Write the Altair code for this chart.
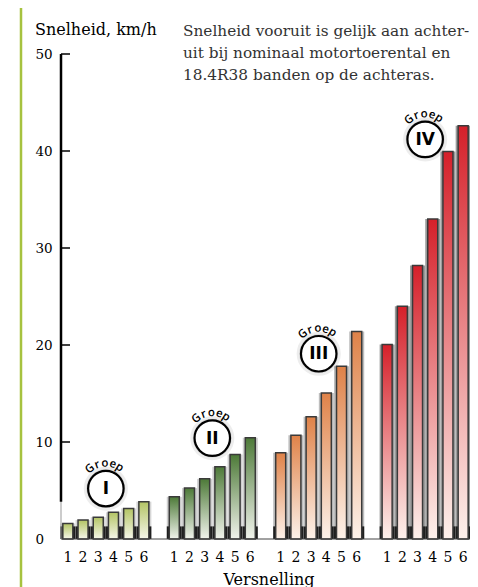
import altair as alt
import pandas as pd

# ---------------- data ----------------
groups = ["I", "II", "III", "IV"]
gears = [1, 2, 3, 4, 5, 6]
speed_I = [1.6, 1.95, 2.25, 2.75, 3.15, 3.85]
speed_II = [4.35, 5.25, 6.2, 7.45, 8.7, 10.45]
speed_III = [8.9, 10.7, 12.6, 15.05, 17.8, 21.4]
speed_IV = [20.05, 24.0, 28.2, 33.0, 39.95, 42.6]
badge_y = [5.2, 10.4, 19.1, 41.2]
y_ticks = [0, 10, 20, 30, 40, 50]
y_title = "Snelheid, km/h"
x_title = "Versnelling"
note_lines = [
    "Snelheid vooruit is gelijk aan achter-",
    "uit bij nominaal motortoerental en",
    "18.4R38 banden op de achteras.",
]
groep_letters = ["G", "r", "o", "e", "p"]

series = {"I": speed_I, "II": speed_II, "III": speed_III, "IV": speed_IV}

# ---------------- styles ----------------
SERIF = "DejaVu Serif"
SANS = "DejaVu Sans"
W, H = 409, 485
PAD = {"left": 53, "top": 46, "right": 0, "bottom": 48}
top_col = {"I": "#b3c464", "II": "#4d7a38", "III": "#df8248", "IV": "#d5202a"}
bot_col = {"I": "#f6f7ea", "II": "#f1f3ec", "III": "#fdf2ea", "IV": "#fdf1ec"}
shadow_col = {"I": "#d6d6d6", "II": "#cfcfcf", "III": "#bdbdbd", "IV": "#9a9a9a"}

rows = []
for gi, g in enumerate(groups):
    for k, v in zip(gears, series[g]):
        rows.append({"group": g, "gi": gi, "gear": k, "speed": v})
bars = pd.DataFrame(rows)
badges = pd.DataFrame({"group": groups, "gi": list(range(4)), "level": badge_y})
ticks_df = pd.DataFrame({"v": y_ticks})
one_row = pd.DataFrame({"k": [0]})

xscale = alt.Scale(domain=[-0.45, 26.45], nice=False, zero=False, padding=0)
yscale = alt.Scale(domain=[0, 50], nice=False, zero=True, padding=0)

posx = alt.X("pos:Q", scale=xscale, axis=None)
bars_base = alt.Chart(bars).transform_calculate(pos="datum.gi * 7 + datum.gear - 1")


def ydat(v):
    return alt.YDatum(v, scale=yscale, axis=None)


# left decorative line
green_line = alt.Chart(one_row).mark_rule(color="#a6c23f", strokeWidth=2.5).encode(
    x=alt.value(-40), y=alt.value(-PAD["top"]), y2=alt.value(H + PAD["bottom"])
)

# gray backdrop behind bars
backdrop = bars_base.mark_bar(size=15, orient="vertical").encode(
    x=posx,
    y=alt.Y("speed:Q", scale=yscale, axis=None),
    y2=alt.Y2Datum(0),
    color=alt.Color("group:N", scale=alt.Scale(domain=groups, range=[shadow_col[g] for g in groups]), legend=None),
)

dark_blocks = bars_base.mark_bar(size=15, color="#1f1f1f", orient="vertical").encode(
    x=posx, y=ydat(0), y2=alt.Y2Datum(1.3)
)

bar_layers = []
for g in groups:
    grad = alt.Gradient(
        gradient="linear",
        stops=[alt.GradientStop(color=top_col[g], offset=0),
               alt.GradientStop(color=bot_col[g], offset=1)],
        x1=0, x2=0, y1=0, y2=1,
    )
    bar_layers.append(
        bars_base.transform_filter(alt.datum.group == g)
        .mark_bar(size=10, color=grad, stroke="#3a3a3a", strokeWidth=1.5, orient="vertical")
        .encode(x=posx, y=alt.Y("speed:Q", scale=yscale, axis=None), y2=alt.Y2Datum(0))
    )

# x baseline
baseline = alt.Chart(one_row).mark_rule(color="#444", strokeWidth=1).encode(
    x=alt.value(0), x2=alt.value(W), y=ydat(0)
)

# y axis line, ticks, labels and titles
axis_line = alt.Chart(one_row).mark_rule(color="black", strokeWidth=2.5).encode(
    x=alt.value(0), y=ydat(speed_I[-1]), y2=alt.Y2Datum(50)
)
axis_low = alt.Chart(one_row).mark_rule(color="#999", strokeWidth=1).encode(
    x=alt.value(0), y=ydat(0), y2=alt.Y2Datum(speed_I[-1])
)
tick_marks = alt.Chart(ticks_df).transform_filter(alt.datum.v > 0).mark_rule(
    color="black", strokeWidth=1.5).encode(
    x=alt.value(0), x2=alt.value(9), y=alt.Y("v:Q", scale=yscale, axis=None)
)
y_labels = alt.Chart(ticks_df).mark_text(
    font=SERIF, fontSize=13.5, align="left", baseline="middle", dy=1, color="black"
).encode(x=alt.value(-25.5), y=alt.Y("v:Q", scale=yscale, axis=None), text="v:Q")

x_labels = bars_base.mark_text(
    font=SERIF, fontSize=14, align="center", baseline="alphabetic", color="black"
).encode(x=posx, y=alt.value(H + 23), text="gear:Q")

y_title_mark = alt.Chart(one_row).mark_text(
    font=SERIF, fontSize=16, align="left", baseline="alphabetic", color="black", text=y_title
).encode(x=alt.value(-26), y=alt.value(-19))

x_title_mark = alt.Chart(one_row).mark_text(
    font=SERIF, fontSize=16, align="center", baseline="alphabetic", color="black", text=x_title
).encode(x=alt.value(208), y=alt.value(H + 45.5))

# badges
badge_base = alt.Chart(badges).transform_calculate(pos="datum.gi * 7 + 2.5")
bx = alt.X("pos:Q", scale=xscale, axis=None)
by = alt.Y("level:Q", scale=yscale, axis=None)
halo = badge_base.mark_point(shape="circle", filled=True, size=1950, color="#000", opacity=0.07).encode(x=bx, y=by)
halo2 = badge_base.mark_point(shape="circle", filled=True, size=1520, color="#000", opacity=0.1).encode(x=bx, y=by)
circle = badge_base.mark_point(shape="circle", filled=True, size=1260, fill="white", stroke="black",
                               strokeWidth=2.2, opacity=1).encode(x=bx, y=by)
numeral = badge_base.mark_text(font=SANS, fontWeight="bold", fontSize=17, baseline="middle",
                               align="center", dy=0.5, color="black").encode(x=bx, y=by, text="group:N")

angles = [-39, -20, -2, 16, 33]
groep_layers = []
for letter, a in zip(groep_letters, angles):
    groep_layers.append(
        badge_base.mark_text(font="Open Sans", fontWeight=600, fontSize=11.5, baseline="alphabetic",
                             align="center", angle=a % 360, dx=0, dy=-22, color="black",
                             text=letter).encode(x=bx, y=by)
    )

note = alt.Chart(one_row).mark_text(
    font=SERIF, fontSize=15.3, align="left", baseline="alphabetic", lineHeight=22.2,
    color="#333333", text=note_lines,
).encode(x=alt.value(122), y=alt.value(-18.3))

chart = alt.layer(
    green_line, backdrop, dark_blocks, *bar_layers, baseline, axis_low, axis_line, tick_marks,
    y_labels, x_labels, y_title_mark, x_title_mark,
    halo, halo2, circle, numeral, *groep_layers, note,
).properties(
    width=W, height=H,
    autosize=alt.AutoSizeParams(type="none"),
    padding=PAD,
    background="white",
).configure_view(stroke=None)

chart.save("out.html", embed_options={"renderer": "svg", "actions": False})
